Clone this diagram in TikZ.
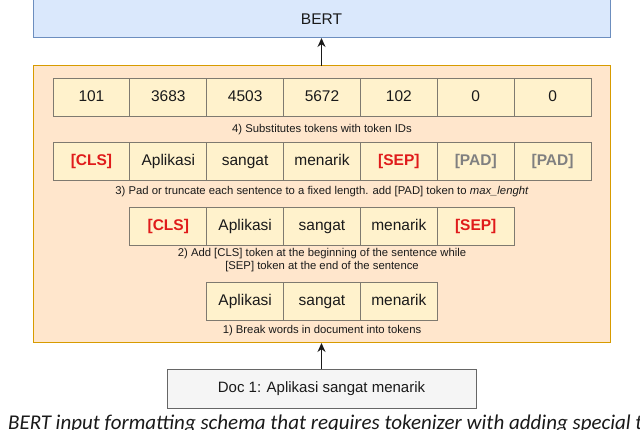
\documentclass[tikz,border=0pt]{standalone}
\usepackage{fontspec}
\setmainfont{Liberation Sans}
\newfontfamily\capfont{Carlito}
\usetikzlibrary{arrows.meta}
\definecolor{bertfill}{HTML}{DAE8FC}
\definecolor{bertline}{HTML}{6C8EBF}
\definecolor{orfill}{HTML}{FFE6CC}
\definecolor{orline}{HTML}{D79B00}
\definecolor{cellfill}{HTML}{FFF2CC}
\definecolor{cellline}{HTML}{7F7A70}
\definecolor{tokred}{HTML}{E01B1B}
\definecolor{padgray}{HTML}{808080}
\definecolor{docfill}{HTML}{F5F5F5}
\definecolor{docline}{HTML}{666666}
\definecolor{txt}{HTML}{1A1A1A}
\begin{document}
\begin{tikzpicture}[x=1pt,y=-1pt,
 cell/.style={draw=cellline, fill=cellfill, line width=1pt, minimum width=76.86pt, minimum height=38pt, inner sep=0pt, outer sep=0pt, text=txt, text height=11pt, text depth=3pt, font=\fontsize{15.5}{18}\selectfont},
 special/.style={text=tokred, font=\fontsize{15.5}{18}\selectfont\bfseries},
 padtok/.style={text=padgray, font=\fontsize{15.5}{18}\selectfont\bfseries},
 note/.style={font=\fontsize{11.3}{13}\selectfont, align=center, inner sep=0pt, text=txt},
 flow/.style={line width=1.3pt, draw=txt, -{Stealth[length=9pt,width=8pt]}}
]
\useasboundingbox (0,0) rectangle (640,430);
\clip (0,0) rectangle (640,430);
\fill[white] (0,0) rectangle (640,430);
% BERT
\node[draw=bertline, fill=bertfill, line width=1pt, minimum width=577pt, minimum height=38pt, inner sep=0pt, outer sep=0pt, text=txt, font=\fontsize{15.5}{18}\selectfont] (bert) at (321.5,19) {BERT};
% outer orange
\node[draw=orline, fill=orfill, line width=1pt, minimum width=577pt, minimum height=277pt, inner sep=0pt, outer sep=0pt] (outer) at (321.5,204.5) {};
% row 1
\node[cell] (a1) at (91.43,98) {101};
\node[cell] (a2) at (168.29,98) {3683};
\node[cell] (a3) at (245.14,98) {4503};
\node[cell] (a4) at (322,98) {5672};
\node[cell] (a5) at (398.86,98) {102};
\node[cell] (a6) at (475.71,98) {0};
\node[cell] (a7) at (552.57,98) {0};
\node[note] (n4) at (322,130) {4) Substitutes tokens with token IDs};
% row 2
\node[cell,special] (b1) at (91.43,162) {[CLS]};
\node[cell] (b2) at (168.29,162) {Aplikasi};
\node[cell] (b3) at (245.14,162) {sangat};
\node[cell] (b4) at (322,162) {menarik};
\node[cell,special] (b5) at (398.86,162) {[SEP]};
\node[cell,padtok] (b6) at (475.71,162) {[PAD]};
\node[cell,padtok] (b7) at (552.57,162) {[PAD]};
\node[note] (n3) at (322,192) {3) Pad or truncate each sentence to a fixed length. add [PAD] token to \textit{max\_lenght}};
% row 3
\node[cell,special] (c1) at (168.29,227) {[CLS]};
\node[cell] (c2) at (245.14,227) {Aplikasi};
\node[cell] (c3) at (322,227) {sangat};
\node[cell] (c4) at (398.86,227) {menarik};
\node[cell,special] (c5) at (475.71,227) {[SEP]};
\node[note] (n2) at (322,260.5) {2) Add [CLS] token at the beginning of the sentence while\\{}[SEP] token at the end of the sentence};
% row 4
\node[cell] (d1) at (245.14,302) {Aplikasi};
\node[cell] (d2) at (322,302) {sangat};
\node[cell] (d3) at (398.86,302) {menarik};
\node[note] (n1) at (322,331) {1) Break words in document into tokens};
% doc
\node[draw=docline, fill=docfill, line width=1pt, minimum width=309pt, minimum height=39pt, inner sep=0pt, outer sep=0pt, text=txt, font=\fontsize{15}{18}\selectfont] (doc) at (321.5,388.5) {Doc 1: Aplikasi sangat menarik};
% arrows
\draw[flow] (doc.north) -- (outer.south);
\draw[flow] (outer.north) -- (bert.south);
% caption
\node[anchor=base west, inner sep=0pt, text=txt, font=\capfont\itshape\fontsize{21}{24}\selectfont] (cap) at (8,429) {BERT input formatting schema that requires tokenizer with adding special t};
\end{tikzpicture}
\end{document}
